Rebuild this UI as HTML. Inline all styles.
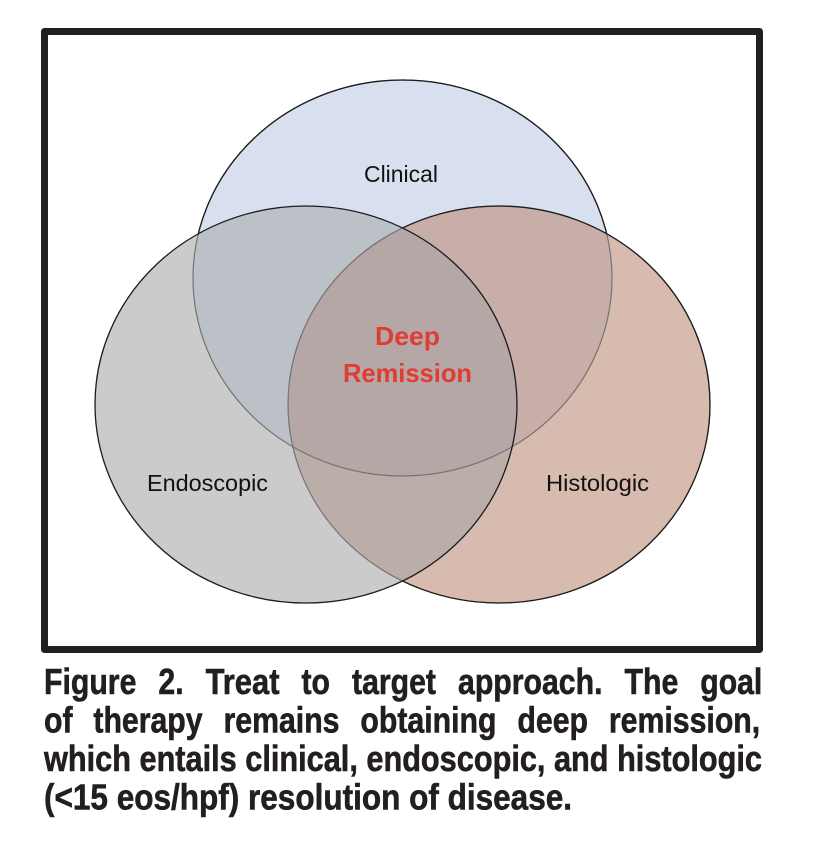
<!DOCTYPE html>
<html>
<head>
<meta charset="utf-8">
<style>
  html, body { margin: 0; padding: 0; background: #ffffff; }
  body { width: 814px; height: 844px; overflow: hidden; }
  svg { display: block; }
  .lbl { font-family: "Liberation Sans", sans-serif; font-size: 23px; fill: #111111; }
  .red { font-family: "Liberation Sans", sans-serif; font-size: 26px; font-weight: bold; fill: #e03c33; }
  .cap { font-family: "Liberation Sans", sans-serif; font-size: 36px; font-weight: bold; fill: #231f20; stroke: #231f20; stroke-width: 0.6px; }
</style>
</head>
<body>
<svg width="814" height="844" viewBox="0 0 814 844" xmlns="http://www.w3.org/2000/svg">
  <defs>
    <clipPath id="cC"><ellipse cx="402.5" cy="278" rx="209.5" ry="198"/></clipPath>
    <clipPath id="cE"><ellipse cx="306" cy="404.5" rx="211" ry="198.5"/></clipPath>
    <mask id="outE" maskUnits="userSpaceOnUse" x="0" y="0" width="814" height="844">
      <rect x="0" y="0" width="814" height="844" fill="#fff"/>
      <ellipse cx="306" cy="404.5" rx="211" ry="198.5" fill="#000"/>
    </mask>
    <mask id="outEH" maskUnits="userSpaceOnUse" x="0" y="0" width="814" height="844">
      <rect x="0" y="0" width="814" height="844" fill="#fff"/>
      <ellipse cx="306" cy="404.5" rx="211" ry="198.5" fill="#000"/>
      <ellipse cx="499" cy="404.5" rx="211" ry="198.5" fill="#000"/>
    </mask>
  </defs>

  <rect x="0" y="0" width="814" height="844" fill="#ffffff"/>

  <!-- fills -->
  <ellipse cx="402.5" cy="278" rx="209.5" ry="198" fill="#d8dfee"/>
  <ellipse cx="499" cy="404.5" rx="211" ry="198.5" fill="#d8bbaf"/>
  <ellipse cx="306" cy="404.5" rx="211" ry="198.5" fill="#cbcbcb"/>
  <ellipse cx="306" cy="404.5" rx="211" ry="198.5" fill="#bcc0c7" clip-path="url(#cC)"/>
  <ellipse cx="499" cy="404.5" rx="211" ry="198.5" fill="#c8aea8" clip-path="url(#cC)"/>
  <ellipse cx="499" cy="404.5" rx="211" ry="198.5" fill="#bbaea9" clip-path="url(#cE)"/>
  <g clip-path="url(#cC)">
    <ellipse cx="499" cy="404.5" rx="211" ry="198.5" fill="#b4a7a6" clip-path="url(#cE)"/>
  </g>

  <!-- strokes: covered parts lighter -->
  <g fill="none" stroke="#737373" stroke-width="1.2">
    <ellipse cx="402.5" cy="278" rx="209.5" ry="198"/>
    <ellipse cx="499" cy="404.5" rx="211" ry="198.5"/>
  </g>
  <g fill="none" stroke="#1c1c1c" stroke-width="1.3">
    <ellipse cx="402.5" cy="278" rx="209.5" ry="198" mask="url(#outEH)"/>
    <ellipse cx="499" cy="404.5" rx="211" ry="198.5" mask="url(#outE)"/>
    <ellipse cx="306" cy="404.5" rx="211" ry="198.5"/>
  </g>

  <!-- labels -->
  <text class="lbl" x="364" y="182" textLength="74" lengthAdjust="spacingAndGlyphs">Clinical</text>
  <text class="lbl" x="147" y="491" textLength="121" lengthAdjust="spacingAndGlyphs">Endoscopic</text>
  <text class="lbl" x="546" y="491" textLength="103" lengthAdjust="spacingAndGlyphs">Histologic</text>
  <text class="red" x="375" y="345" textLength="65" lengthAdjust="spacingAndGlyphs">Deep</text>
  <text class="red" x="343" y="382" textLength="129" lengthAdjust="spacingAndGlyphs">Remission</text>

  <!-- frame -->
  <rect x="44.5" y="31.5" width="715" height="618" fill="none" stroke="#231f20" stroke-width="7" stroke-linejoin="round"/>

  <!-- caption line 1 -->
  <text class="cap" x="44" y="694" textLength="92.4" lengthAdjust="spacingAndGlyphs">Figure</text>
  <text class="cap" x="158.4" y="694" textLength="25.2" lengthAdjust="spacingAndGlyphs">2.</text>
  <text class="cap" x="205.6" y="694" textLength="73.9" lengthAdjust="spacingAndGlyphs">Treat</text>
  <text class="cap" x="301.5" y="694" textLength="28.5" lengthAdjust="spacingAndGlyphs">to</text>
  <text class="cap" x="352" y="694" textLength="84" lengthAdjust="spacingAndGlyphs">target</text>
  <text class="cap" x="458" y="694" textLength="144.5" lengthAdjust="spacingAndGlyphs">approach.</text>
  <text class="cap" x="624.5" y="694" textLength="53.8" lengthAdjust="spacingAndGlyphs">The</text>
  <text class="cap" x="700.3" y="694" textLength="62" lengthAdjust="spacingAndGlyphs">goal</text>

  <!-- caption line 2 -->
  <text class="cap" x="44" y="732.5" textLength="28.5" lengthAdjust="spacingAndGlyphs">of</text>
  <text class="cap" x="93.4" y="732.5" textLength="109.2" lengthAdjust="spacingAndGlyphs">therapy</text>
  <text class="cap" x="223.5" y="732.5" textLength="116" lengthAdjust="spacingAndGlyphs">remains</text>
  <text class="cap" x="360.4" y="732.5" textLength="136.1" lengthAdjust="spacingAndGlyphs">obtaining</text>
  <text class="cap" x="517.4" y="732.5" textLength="70.6" lengthAdjust="spacingAndGlyphs">deep</text>
  <text class="cap" x="608.9" y="732.5" textLength="151.3" lengthAdjust="spacingAndGlyphs">remission,</text>

  <!-- caption line 3 -->
  <text class="cap" x="44" y="771" textLength="718" lengthAdjust="spacingAndGlyphs">which entails clinical, endoscopic, and histologic</text>

  <!-- caption line 4 -->
  <text class="cap" x="44" y="809.5" textLength="528" lengthAdjust="spacingAndGlyphs">(&lt;15 eos/hpf) resolution of disease.</text>
</svg>
</body>
</html>
